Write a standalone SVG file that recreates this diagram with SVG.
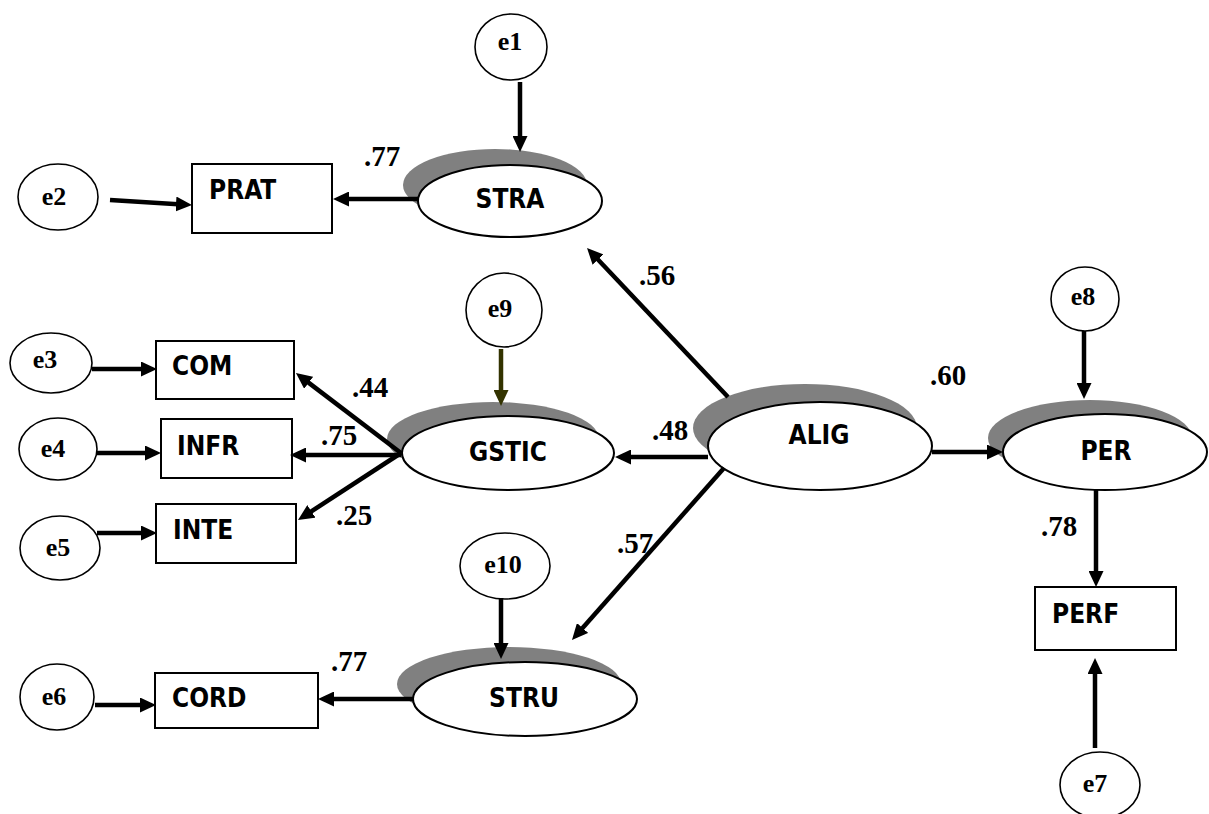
<svg xmlns="http://www.w3.org/2000/svg" width="1209" height="814" viewBox="0 0 1209 814">
  <style>
    .err { fill: #fff; stroke: #000; stroke-width: 1.6; }
    .lat { fill: #fff; stroke: #000; stroke-width: 2; }
    .shd { fill: #808080; stroke: none; }
    .box { fill: #fff; stroke: #000; stroke-width: 2; }
    .etx { font-family: "Liberation Serif", serif; font-weight: bold; font-size: 26px; text-anchor: middle; }
    .ntx { font-family: "DejaVu Sans Condensed", "DejaVu Sans", sans-serif; font-stretch: condensed; font-weight: bold; font-size: 26px; }
    .ctr { text-anchor: middle; }
    .coef { font-family: "Liberation Serif", serif; font-weight: bold; font-size: 29px; }
    .ar { fill: none; stroke: #000; stroke-width: 4.5; marker-end: url(#ah); }
    .ar2 { fill: none; stroke: #333300; stroke-width: 4.5; marker-end: url(#ah2); }
  </style>
  <defs>
    <marker id="ah" markerUnits="userSpaceOnUse" markerWidth="16" markerHeight="15" refX="6" refY="7.5" orient="auto">
      <path d="M0,0 L16,7.5 L0,15 z" fill="#000"/>
    </marker>
    <marker id="ah2" markerUnits="userSpaceOnUse" markerWidth="16" markerHeight="15" refX="6" refY="7.5" orient="auto">
      <path d="M0,0 L16,7.5 L0,15 z" fill="#333300"/>
    </marker>
  </defs>
  <rect width="1209" height="814" fill="#fff"/>

  <!-- latent variables with drop shadows -->
  <g id="STRA">
    <ellipse class="shd" cx="495" cy="185" rx="92" ry="36"/>
    <ellipse class="lat" cx="510" cy="201" rx="92" ry="36"/>
    <text class="ntx ctr" x="510" y="208">STRA</text>
  </g>
  <g id="GSTIC">
    <ellipse class="shd" cx="493" cy="439" rx="106" ry="37"/>
    <ellipse class="lat" cx="508" cy="453" rx="106" ry="37"/>
    <text class="ntx ctr" x="508" y="461">GSTIC</text>
  </g>
  <g id="ALIG">
    <ellipse class="shd" cx="805" cy="428" rx="112" ry="44"/>
    <ellipse class="lat" cx="820" cy="446" rx="112" ry="44"/>
    <text class="ntx ctr" x="819" y="444">ALIG</text>
  </g>
  <g id="PER">
    <ellipse class="shd" cx="1090" cy="438" rx="102" ry="38"/>
    <ellipse class="lat" cx="1105" cy="452" rx="102" ry="38"/>
    <text class="ntx ctr" x="1106" y="460">PER</text>
  </g>
  <g id="STRU">
    <ellipse class="shd" cx="509" cy="684" rx="112" ry="37"/>
    <ellipse class="lat" cx="525" cy="699" rx="112" ry="37"/>
    <text class="ntx ctr" x="524" y="707">STRU</text>
  </g>

  <!-- observed indicators -->
  <g id="PRAT">
    <rect class="box" x="192" y="164" width="140" height="69"/>
    <text class="ntx" x="209" y="199">PRAT</text>
  </g>
  <g id="COM">
    <rect class="box" x="156" y="341" width="138" height="58"/>
    <text class="ntx" x="172" y="375">COM</text>
  </g>
  <g id="INFR">
    <rect class="box" x="161" y="419" width="131" height="59"/>
    <text class="ntx" x="177" y="455">INFR</text>
  </g>
  <g id="INTE">
    <rect class="box" x="156" y="504" width="140" height="59"/>
    <text class="ntx" x="173" y="539">INTE</text>
  </g>
  <g id="CORD">
    <rect class="box" x="155" y="673" width="163" height="55"/>
    <text class="ntx" x="172" y="707">CORD</text>
  </g>
  <g id="PERF">
    <rect class="box" x="1035" y="587" width="141" height="63"/>
    <text class="ntx" x="1052" y="623">PERF</text>
  </g>

  <!-- error terms -->
  <g id="e1"><ellipse class="err" cx="511" cy="47" rx="36" ry="33"/><text class="etx" x="510" y="50">e1</text></g>
  <g id="e2"><ellipse class="err" cx="58" cy="197" rx="40" ry="33"/><text class="etx" x="54" y="205">e2</text></g>
  <g id="e3"><ellipse class="err" cx="51" cy="363" rx="41" ry="30"/><text class="etx" x="45" y="368">e3</text></g>
  <g id="e4"><ellipse class="err" cx="58" cy="449" rx="39" ry="31"/><text class="etx" x="53" y="457">e4</text></g>
  <g id="e5"><ellipse class="err" cx="60" cy="548" rx="40" ry="32"/><text class="etx" x="58" y="556">e5</text></g>
  <g id="e6"><ellipse class="err" cx="57" cy="697" rx="37" ry="33"/><text class="etx" x="54" y="705">e6</text></g>
  <g id="e7"><ellipse class="err" cx="1100" cy="785" rx="40" ry="33"/><text class="etx" x="1095" y="792">e7</text></g>
  <g id="e8"><ellipse class="err" cx="1085" cy="299" rx="34" ry="32"/><text class="etx" x="1083" y="305">e8</text></g>
  <g id="e9"><ellipse class="err" cx="504" cy="310" rx="38" ry="37"/><text class="etx" x="500" y="317">e9</text></g>
  <g id="e10"><ellipse class="err" cx="505" cy="566" rx="45" ry="33"/><text class="etx" x="503" y="573">e10</text></g>

  <!-- paths -->
  <g id="connectors">
    <line class="ar" x1="520" y1="82" x2="520" y2="142"/>
    <line class="ar" x1="110" y1="200" x2="182" y2="204.4"/>
    <line class="ar" x1="418" y1="199" x2="343" y2="199"/>
    <line class="ar" x1="728" y1="397" x2="593.9" y2="255.3"/>
    <line class="ar2" x1="501" y1="349" x2="501" y2="396"/>
    <line class="ar" x1="92" y1="369" x2="147" y2="369"/>
    <line class="ar" x1="97" y1="453" x2="151" y2="453"/>
    <line class="ar" x1="97" y1="533" x2="147" y2="533"/>
    <line class="ar" x1="401" y1="453" x2="303.9" y2="379.1"/>
    <line class="ar" x1="401" y1="455" x2="300" y2="455"/>
    <line class="ar" x1="401" y1="453" x2="306.4" y2="514.6"/>
    <line class="ar" x1="708" y1="457" x2="625" y2="457"/>
    <line class="ar" x1="724" y1="468" x2="578.6" y2="632.5"/>
    <line class="ar" x1="932" y1="452" x2="993" y2="452"/>
    <line class="ar" x1="1084" y1="331" x2="1084" y2="389"/>
    <line class="ar" x1="1096" y1="490" x2="1096" y2="577"/>
    <line class="ar" x1="1095" y1="748" x2="1095" y2="668"/>
    <line class="ar" x1="501" y1="598" x2="501" y2="649"/>
    <line class="ar" x1="413" y1="699" x2="328" y2="699"/>
    <line class="ar" x1="95" y1="705" x2="146" y2="705"/>
  </g>

  <!-- path coefficients -->
  <g id="coefficients">
    <text class="coef" x="364" y="166">.77</text>
    <text class="coef" x="639" y="285">.56</text>
    <text class="coef" x="352" y="397">.44</text>
    <text class="coef" x="321" y="445">.75</text>
    <text class="coef" x="336" y="525">.25</text>
    <text class="coef" x="652" y="440">.48</text>
    <text class="coef" x="930" y="385">.60</text>
    <text class="coef" x="617" y="553">.57</text>
    <text class="coef" x="1041" y="536">.78</text>
    <text class="coef" x="331" y="671">.77</text>
  </g>
</svg>
